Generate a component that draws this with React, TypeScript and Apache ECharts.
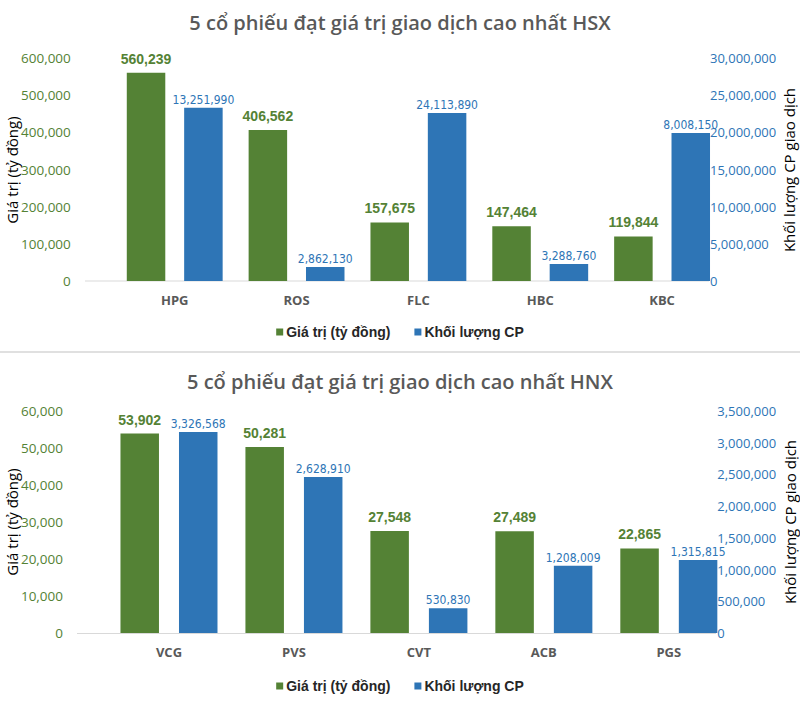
import React, { useEffect, useRef } from "react";
import * as echarts from "echarts";

const hsxCategories = ["HPG", "ROS", "FLC", "HBC", "KBC"];
const hsxValue = [560239, 406562, 157675, 147464, 119844];
const hsxVolume = [23300000, 1900000, 22600000, 2300000, 19900000];
const hsxVolumeLabels = ["13,251,990", "2,862,130", "24,113,890", "3,288,760", "8,008,150"];

const hnxCategories = ["VCG", "PVS", "CVT", "ACB", "PGS"];
const hnxValue = [53902, 50281, 27548, 27489, 22865];
const hnxVolume = [3170000, 2460000, 390000, 1060000, 1150000];
const hnxVolumeLabels = ["3,326,568", "2,628,910", "530,830", "1,208,009", "1,315,815"];

const seriesNames = ["Giá trị (tỷ đồng)", "Khối lượng CP"];
const titles = ["5 cổ phiếu đạt giá trị giao dịch cao nhất HSX", "5 cổ phiếu đạt giá trị giao dịch cao nhất HNX"];
const leftAxisName = "Giá trị (tỷ đồng)";
const rightAxisName = "Khối lượng CP giao dịch";

const GREEN = "#548235";
const BLUE = "#2e75b6";
const fmt = (v: number) => v.toLocaleString("en-US");
const AXIS_FONT = "'Open Sans', sans-serif";
const NARROW = "'DejaVu Sans Condensed', sans-serif";

export default function App() {
  const ref = useRef<HTMLDivElement>(null);
  useEffect(() => {
    if (!ref.current) return;
    const chart = echarts.init(ref.current, null, { renderer: "svg" });
    const grids = [
      { left: 113.8, right: 77, top: 58, height: 223, outerBoundsMode: "none", containLabel: false },
      { left: 106.5, right: 68.7, top: 411, height: 222, outerBoundsMode: "none", containLabel: false },
    ];
    const leftMax = [600000, 60000];
    const leftInt = [100000, 10000];
    const rightMax = [30000000, 3500000];
    const rightInt = [5000000, 500000];
    const leftMargin = [43, 43.5];
    const rightMargin = [-13, -14];
    const cats = [hsxCategories, hnxCategories];
    const vals = [hsxValue, hnxValue];
    const vols = [hsxVolume, hnxVolume];
    const volLabels = [hsxVolumeLabels, hnxVolumeLabels];
    const barGaps = ["49%", "52%"];
    const nameStyle = { fontFamily: AXIS_FONT, fontSize: 15, fill: "#000000", align: "center", verticalAlign: "middle" };

    const option: any = {
      animation: false,
      backgroundColor: "#ffffff",
      title: titles.map((t, i) => ({
        text: t,
        left: "center",
        top: i === 0 ? 7 : 366,
        textStyle: { fontFamily: AXIS_FONT, fontWeight: 600, fontSize: 20, color: "#595959" },
      })),
      legend: [0, 1].map((i) => ({
        data: seriesNames,
        left: "center",
        top: i === 0 ? 320 : 674,
        itemWidth: 7,
        itemHeight: 7,
        itemGap: 24,
        icon: "rect",
        textStyle: { fontFamily: "'Liberation Sans', Arial, sans-serif", fontWeight: "bold", fontSize: 14, color: "#262626", padding: [0, 0, 0, -2] },
      })),
      grid: grids,
      xAxis: [0, 1].map((i) => ({
        type: "category",
        gridIndex: i,
        data: cats[i],
        axisLine: { show: false },
        axisTick: { show: false },
        axisLabel: { margin: 12, fontFamily: AXIS_FONT, fontWeight: "bold", fontSize: 13, color: "#595959" },
      })),
      yAxis: [
        ...[0, 1].map((i) => ({
          type: "value",
          gridIndex: i,
          position: "left",
          min: 0,
          max: leftMax[i],
          interval: leftInt[i],
          splitLine: { show: false },
          axisLine: { show: false },
          axisTick: { show: false },
          axisLabel: { margin: leftMargin[i], formatter: (v: number) => fmt(v), fontFamily: AXIS_FONT, fontSize: 13.5, color: GREEN },
        })),
        ...[0, 1].map((i) => ({
          type: "value",
          gridIndex: i,
          position: "right",
          min: 0,
          max: rightMax[i],
          interval: rightInt[i],
          splitLine: { show: false },
          axisLine: { show: false },
          axisTick: { show: false },
          axisLabel: { margin: rightMargin[i], formatter: (v: number) => fmt(v), fontFamily: AXIS_FONT, fontSize: 13, color: BLUE },
        })),
      ],
      series: [0, 1].flatMap((i) => [
        {
          name: seriesNames[0],
          type: "bar",
          xAxisIndex: i,
          yAxisIndex: i,
          data: vals[i],
          barWidth: 38.5,
          barGap: barGaps[i],
          itemStyle: { color: GREEN },
          label: {
            show: true,
            position: "top",
            distance: 7,
            formatter: (p: any) => fmt(p.value),
            fontFamily: "'Liberation Sans', Arial, sans-serif",
            fontWeight: "bold",
            fontSize: 14,
            color: GREEN,
          },
        },
        {
          name: seriesNames[1],
          type: "bar",
          xAxisIndex: i,
          yAxisIndex: i + 2,
          data: vols[i],
          barWidth: 38.5,
          barGap: barGaps[i],
          itemStyle: { color: BLUE },
          label: {
            show: true,
            position: "top",
            distance: 2,
            formatter: (p: any) => volLabels[i][p.dataIndex],
            fontFamily: NARROW,
            fontSize: 12,
            color: BLUE,
          },
        },
      ]),
      graphic: [
        { type: "line", shape: { x1: 85, y1: 281, x2: 709, y2: 281 }, style: { stroke: "#d9d9d9", lineWidth: 1 } },
        { type: "line", shape: { x1: 77, y1: 633.5, x2: 716, y2: 633.5 }, style: { stroke: "#d9d9d9", lineWidth: 1 } },
        { type: "line", shape: { x1: 0, y1: 352, x2: 800, y2: 352 }, style: { stroke: "#e0e0e0", lineWidth: 2 } },
        { type: "text", x: 12, y: 170, rotation: Math.PI / 2, style: { ...nameStyle, text: leftAxisName } },
        { type: "text", x: 12, y: 522, rotation: Math.PI / 2, style: { ...nameStyle, text: leftAxisName } },
        { type: "text", x: 789, y: 170, rotation: Math.PI / 2, style: { ...nameStyle, text: rightAxisName } },
        { type: "text", x: 790, y: 522, rotation: Math.PI / 2, style: { ...nameStyle, text: rightAxisName } },
      ],
    };
    chart.setOption(option);
    return () => chart.dispose();
  }, []);
  return (
    <div
      ref={ref}
      style={{ position: "absolute", left: 0, top: 0, width: 800, height: 705, background: "#fff" }}
    />
  );
}
